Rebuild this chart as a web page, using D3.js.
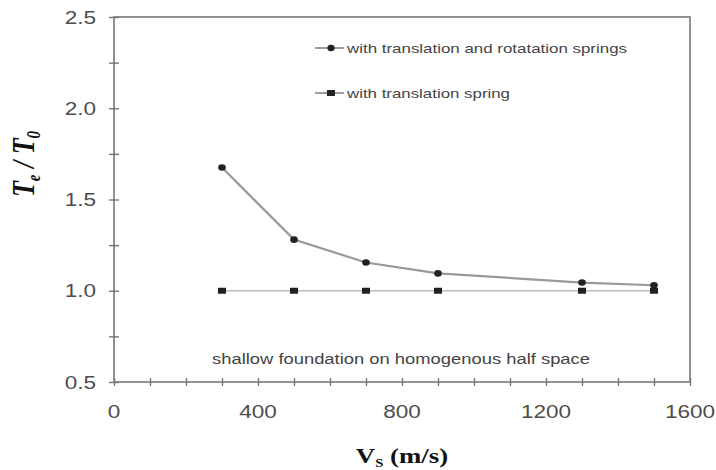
<!DOCTYPE html>
<html>
<head>
<meta charset="utf-8">
<script src="https://cdn.jsdelivr.net/npm/d3@7/dist/d3.min.js"></script>
<style>
  html, body { margin: 0; padding: 0; background: #fff; }
  svg { display: block; }
</style>
</head>
<body>
<svg id="chart" width="716" height="470"></svg>
<script>
// Shear-wave velocity (m/s) at each computed case
const vs = [300, 500, 700, 900, 1300, 1500];
// Period ratio with translation + rotation springs
const ratioTransRot = [1.675, 1.28, 1.155, 1.095, 1.045, 1.03];
// Period ratio with translation spring only
const ratioTrans = [1.0, 1.0, 1.0, 1.0, 1.0, 1.0];

const xTickLabels = [0, 400, 800, 1200, 1600];
const yTickLabels = [0.5, 1.0, 1.5, 2.0, 2.5];
const legendLabels = ["with translation and rotatation springs", "with translation spring"];
const noteText = "shallow foundation on homogenous half space";

const svg = d3.select("#chart");
const plotL = 114, plotR = 690, plotT = 17, plotB = 382;
const stretch = 1.22;   // wide glyph aspect used for all lettering

const x = d3.scaleLinear().domain([0, 1600]).range([plotL, plotR]);
const y = d3.scaleLinear().domain([0.5, 2.5]).range([plotB, plotT]);

const axisColor = "#777";
const textColor = "#4d4d4d";
const sans = "Liberation Sans, Arial, sans-serif";
const serif = "Liberation Serif, Times New Roman, serif";

// Text placed at (px, py) with a horizontal stretch
function wideText(parent, px, py, anchor) {
  return parent.append("g")
    .attr("transform", `translate(${px},${py}) scale(${stretch},1)`)
    .append("text")
    .attr("text-anchor", anchor);
}

// Frame
svg.append("rect")
  .attr("x", plotL).attr("y", plotT)
  .attr("width", plotR - plotL).attr("height", plotB - plotT)
  .attr("fill", "none").attr("stroke", axisColor).attr("stroke-width", 1.6);

// X axis: ticks every 100 crossing the axis line
const xAxis = d3.axisBottom(x)
  .tickValues(d3.range(0, 1601, 100))
  .tickSize(4)
  .tickFormat("");
const gx = svg.append("g").attr("transform", `translate(0,${plotB})`).call(xAxis);
gx.select(".domain").remove();
gx.selectAll(".tick line").attr("y1", -4).attr("y2", 4)
  .attr("stroke", axisColor).attr("stroke-width", 1.4);

const xLab = svg.append("g");
xTickLabels.forEach(d => {
  wideText(xLab, x(d), plotB + 36, "middle")
    .attr("font-family", sans).attr("font-size", 18.5).attr("fill", textColor)
    .text(d);
});

// Y axis: ticks every 0.25, crossing the axis line
const yAxis = d3.axisLeft(y)
  .tickValues(d3.range(0.5, 2.51, 0.25))
  .tickSize(5)
  .tickFormat("");
const gy = svg.append("g").attr("transform", `translate(${plotL},0)`).call(yAxis);
gy.select(".domain").remove();
gy.selectAll(".tick line").attr("x1", -5).attr("x2", 5)
  .attr("stroke", axisColor).attr("stroke-width", 1.4);

const yLab = svg.append("g");
yTickLabels.forEach(d => {
  wideText(yLab, plotL - 18, y(d) + 6.5, "end")
    .attr("font-family", sans).attr("font-size", 18.5).attr("fill", textColor)
    .text(d.toFixed(1));
});

// Axis titles
const yTitle = svg.append("g")
  .attr("transform", `translate(34,164) scale(${stretch},1) rotate(-90)`)
  .append("text")
  .attr("text-anchor", "middle")
  .attr("font-family", serif)
  .attr("font-weight", "bold").attr("font-style", "italic")
  .attr("font-size", 26).attr("fill", "#111");
yTitle.append("tspan").text("T");
yTitle.append("tspan").attr("font-size", 15).attr("dy", 5).text("e");
yTitle.append("tspan").attr("dy", -5).text(" / T");
yTitle.append("tspan").attr("font-size", 15).attr("dy", 5).text("0");

const xTitle = wideText(svg, 402, 463, "middle")
  .attr("font-family", serif)
  .attr("font-weight", "bold")
  .attr("font-size", 22).attr("fill", "#111");
xTitle.append("tspan").text("V");
xTitle.append("tspan").attr("font-size", 12).attr("dy", 4).text("S");
xTitle.append("tspan").attr("dy", -4).text(" (m/s)");

// Series lines
const line = d3.line().x(d => x(d[0])).y(d => y(d[1]));
const rotPts = vs.map((v, i) => [v, ratioTransRot[i]]);
const trPts = vs.map((v, i) => [v, ratioTrans[i]]);

svg.append("path").datum(trPts).attr("d", line)
  .attr("fill", "none").attr("stroke", "#bbb").attr("stroke-width", 1.3);
svg.append("path").datum(rotPts).attr("d", line)
  .attr("fill", "none").attr("stroke", "#999").attr("stroke-width", 2.2);

// Markers: squares for translation-only, circles for translation + rotation
svg.append("g").selectAll("rect").data(trPts).join("rect")
  .attr("x", d => x(d[0]) - 4).attr("y", d => y(d[1]) - 3)
  .attr("width", 8).attr("height", 6)
  .attr("fill", "#222");
svg.append("g").selectAll("ellipse").data(rotPts).join("ellipse")
  .attr("cx", d => x(d[0])).attr("cy", d => y(d[1]))
  .attr("rx", 3.8).attr("ry", 3.3).attr("fill", "#222");

// Legend
const legend = svg.append("g");
const legY = [48, 93];
const legW = [280, 163];
legendLabels.forEach((lab, i) => {
  legend.append("line")
    .attr("x1", 315).attr("x2", 344).attr("y1", legY[i]).attr("y2", legY[i])
    .attr("stroke", "#666").attr("stroke-width", 1.3);
  if (i === 0) {
    legend.append("ellipse").attr("cx", 331).attr("cy", legY[i]).attr("rx", 3.6).attr("ry", 3.2).attr("fill", "#222");
  } else {
    legend.append("rect").attr("x", 327).attr("y", legY[i] - 3).attr("width", 8).attr("height", 6).attr("fill", "#222");
  }
  legend.append("text")
    .attr("x", 347).attr("y", legY[i] + 5)
    .attr("font-family", sans)
    .attr("font-size", 13.5).attr("fill", "#444")
    .attr("textLength", legW[i]).attr("lengthAdjust", "spacingAndGlyphs")
    .text(lab);
});

// Annotation
svg.append("text")
  .attr("x", 212).attr("y", 364)
  .attr("font-family", sans)
  .attr("font-size", 14).attr("fill", "#444")
  .attr("textLength", 378).attr("lengthAdjust", "spacingAndGlyphs")
  .text(noteText);
</script>
</body>
</html>
